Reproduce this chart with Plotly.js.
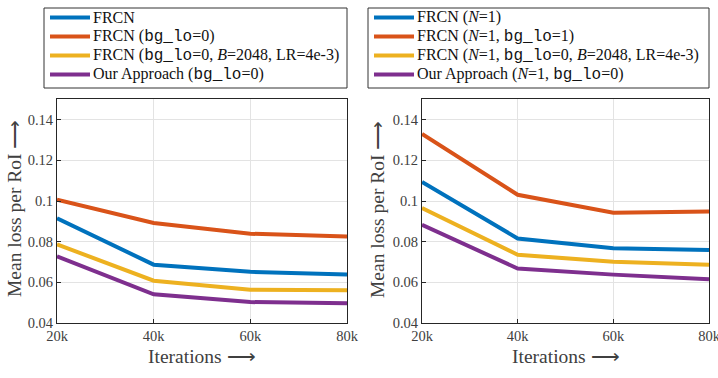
<!DOCTYPE html>
<html><head><meta charset="utf-8">
<script src="https://cdn.plot.ly/plotly-3.0.1.min.js"></script>
<style>body{margin:0;background:#fff}#c{width:718px;height:378px}</style>
</head><body><div id="c"></div>
<script>
const iterations = [20000, 40000, 60000, 80000];
const tickLabels = ['20k', '40k', '60k', '80k'];
const yTicks = [0.04, 0.06, 0.08, 0.1, 0.12, 0.14];
const yTickLabels = ['0.04', '0.06', '0.08', '0.1', '0.12', '0.14'];

// Left panel
const leftFRCN = [0.0915, 0.0687, 0.0652, 0.0639];
const leftFRCNbg = [0.1007, 0.0892, 0.0839, 0.0826];
const leftFRCNbgB = [0.0787, 0.0608, 0.0564, 0.0561];
const leftOurs = [0.0728, 0.0541, 0.0503, 0.0497];
// Right panel
const rightFRCN = [0.1094, 0.0816, 0.0768, 0.0759];
const rightFRCNbg = [0.1330, 0.1031, 0.0943, 0.0949];
const rightFRCNbgB = [0.0966, 0.0736, 0.0701, 0.0686];
const rightOurs = [0.0883, 0.0668, 0.0638, 0.0615];

const TT = s => '<span style="font-family:\'Liberation Mono\',monospace">' + s + '</span>';
const leftNames = ['FRCN', 'FRCN (' + TT('bg_lo') + '=0)',
  'FRCN (' + TT('bg_lo') + '=0, <i>B</i>=2048, LR=4e-3)', 'Our Approach (' + TT('bg_lo') + '=0)'];
const rightNames = ['FRCN (<i>N</i>=1)', 'FRCN (<i>N</i>=1, ' + TT('bg_lo') + '=1)',
  'FRCN (<i>N</i>=1, ' + TT('bg_lo') + '=0, <i>B</i>=2048, LR=4e-3)', 'Our Approach (<i>N</i>=1, ' + TT('bg_lo') + '=0)'];
const colors = ['#0072BD', '#D95319', '#EDB120', '#7E2F8E'];

const leftData = [leftFRCN, leftFRCNbg, leftFRCNbgB, leftOurs];
const rightData = [rightFRCN, rightFRCNbg, rightFRCNbgB, rightOurs];
const traces = [];
leftData.forEach((d, i) => traces.push({x: iterations, y: d, name: leftNames[i], mode: 'lines',
  line: {color: colors[i], width: 4}, xaxis: 'x', yaxis: 'y', showlegend: false}));
rightData.forEach((d, i) => traces.push({x: iterations, y: d, name: rightNames[i], mode: 'lines',
  line: {color: colors[i], width: 4}, xaxis: 'x2', yaxis: 'y2', showlegend: false}));

const W = 718, H = 378;
const px = v => v / W, py = v => 1 - v / H;
const font = "'Liberation Serif', serif";
const ax = (dom) => ({domain: dom, range: [20000, 80000], tickvals: iterations, ticktext: tickLabels,
  showgrid: true, gridcolor: '#e3e3e3', zeroline: false, showline: true, mirror: true,
  linecolor: '#262626', linewidth: 1, ticks: 'inside', ticklen: 4, tickcolor: '#262626',
  ticklabeloverflow: 'allow', tickfont: {family: font, size: 14.5, color: '#404040'}});
const ay = (anchor) => ({domain: [0.1455, 0.737], range: [0.04, 0.15], tickvals: yTicks, ticktext: yTickLabels,
  showgrid: true, gridcolor: '#e3e3e3', zeroline: false, showline: true, mirror: true,
  linecolor: '#262626', linewidth: 1, ticks: 'inside', ticklen: 4, tickcolor: '#262626',
  tickfont: {family: font, size: 14.5, color: '#404040'}, anchor: anchor});

const shapes = [], annotations = [];
// manual legends
const legendBoxes = [{x0: 44, x1: 347, names: leftNames}, {x0: 368, x1: 709, names: rightNames}];
legendBoxes.forEach(b => {
  shapes.push({type: 'rect', xref: 'paper', yref: 'paper', x0: px(b.x0), x1: px(b.x1), y0: py(88), y1: py(8),
    line: {color: '#333', width: 1}, fillcolor: 'rgba(0,0,0,0)'});
  b.names.forEach((n, i) => {
    const yc = 17.5 + i * 19;
    shapes.push({type: 'line', xref: 'paper', yref: 'paper', x0: px(b.x0 + 6), x1: px(b.x0 + 46),
      y0: py(yc), y1: py(yc), line: {color: colors[i], width: 4}});
    annotations.push({text: n, xref: 'paper', yref: 'paper', x: px(b.x0 + 47), y: py(yc),
      xanchor: 'left', yanchor: 'middle', showarrow: false,
      font: {family: font, size: 16, color: '#111'}});
  });
});
const titleFont = {family: font, size: 19.5, color: '#404040'};
annotations.push(
  {text: 'Iterations ⟶', x: px(202), y: py(356), xref: 'paper', yref: 'paper', showarrow: false,
   xanchor: 'center', yanchor: 'middle', font: titleFont},
  {text: 'Iterations ⟶', x: px(566), y: py(356), xref: 'paper', yref: 'paper', showarrow: false,
   xanchor: 'center', yanchor: 'middle', font: titleFont},
  {text: 'Mean loss per RoI ⟶', x: px(14), y: py(209), xref: 'paper', yref: 'paper', showarrow: false,
   xanchor: 'center', yanchor: 'middle', textangle: -90, font: titleFont},
  {text: 'Mean loss per RoI ⟶', x: px(377), y: py(209), xref: 'paper', yref: 'paper', showarrow: false,
   xanchor: 'center', yanchor: 'middle', textangle: -90, font: titleFont}
);

const layout = {
  width: W, height: H, margin: {l: 0, r: 0, t: 0, b: 0}, paper_bgcolor: '#fff', plot_bgcolor: '#fff',
  showlegend: false,
  xaxis: Object.assign(ax([px(57), px(347)]), {anchor: 'y'}),
  yaxis: ay('x'),
  xaxis2: Object.assign(ax([px(422), px(709)]), {anchor: 'y2'}),
  yaxis2: ay('x2'),
  shapes: shapes,
  annotations: annotations
};
Plotly.newPlot('c', traces, layout, {staticPlot: true});
</script></body></html>
